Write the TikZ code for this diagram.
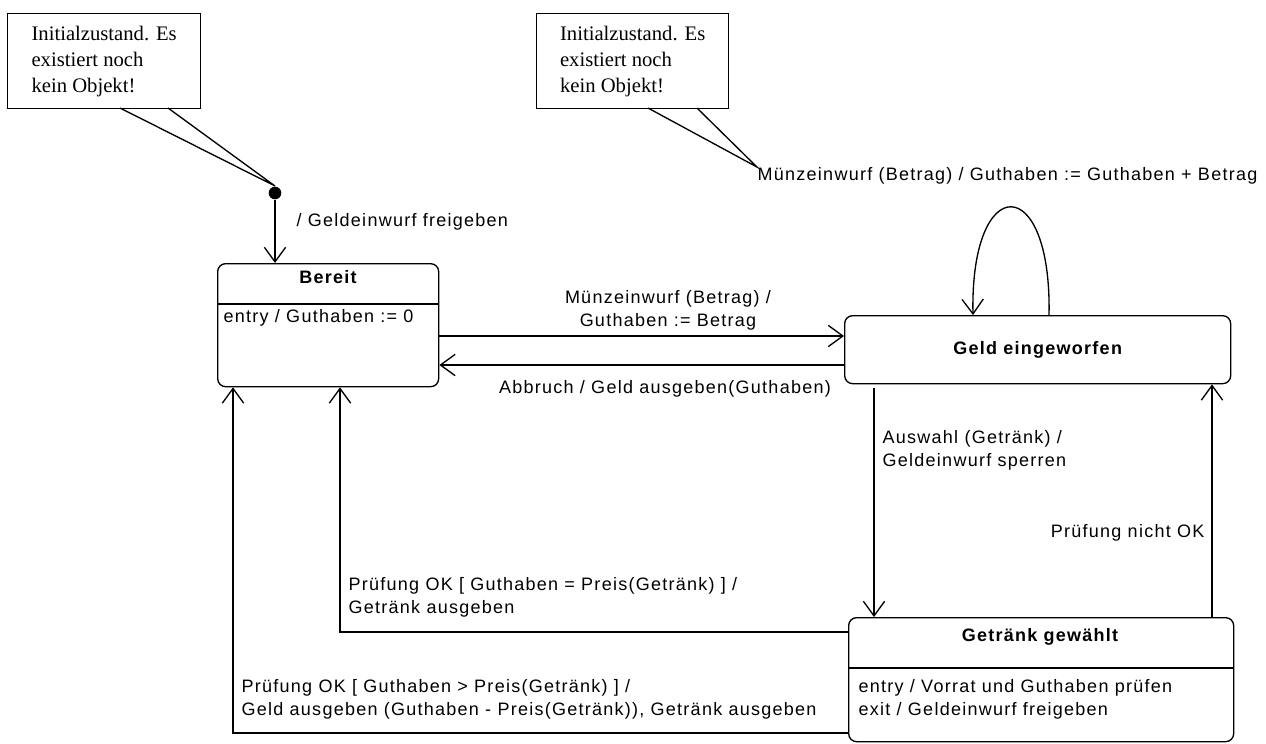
\documentclass[tikz,border=0pt]{standalone}
\usepackage{fontspec}
\usetikzlibrary{arrows.meta,calc}
\newfontfamily\diag[LetterSpace=7]{Liberation Sans}
\newfontfamily\notefont{Liberation Serif}
\begin{document}
\begin{tikzpicture}[x=0.75pt,y=-0.75pt, line width=1pt,
  state/.style={draw, rounded corners=6pt, anchor=north west, inner sep=0},
  note/.style={draw, anchor=north west, align=left, font=\notefont\fontsize{15.5pt}{19.5pt}\selectfont, inner sep=0},
  lbl/.style={font=\diag\fontsize{13.5pt}{17.25pt}\selectfont, inner sep=0, text height=9.8pt, text depth=2.6pt},
  ttl/.style={font=\diag\bfseries\fontsize{13.5pt}{17.25pt}\selectfont, inner sep=0, text height=9.8pt, text depth=2.6pt},
  mlbl/.style={font=\diag\fontsize{13.5pt}{17.25pt}\selectfont, inner sep=0, align=left},
  arr/.style={-{Straight Barb[length=11pt,width=16pt]}},
]
\useasboundingbox (0,0) rectangle (1266,743);
% notes
\node[note, minimum width=144.75pt, minimum height=71.25pt] (note1) at (7,13) {Initialzustand. Es\\existiert noch\\kein Objekt!};
\node[note, minimum width=144pt, minimum height=71.25pt] (note2) at (536,13) {Initialzustand. Es\\existiert noch\\kein Objekt!};
% states
\node[state, minimum width=165.75pt, minimum height=92.25pt] (bereit) at (217,263) {};
\node[state, minimum width=289.5pt, minimum height=51pt, font=\diag\bfseries\fontsize{13.5pt}{16pt}\selectfont] (geld) at (844,315) {Geld eingeworfen};
\node[state, minimum width=288.75pt, minimum height=93pt] (getraenk) at (848,617) {};
\node[ttl] (bereitT) at (328,279) {Bereit};
\coordinate (s1) at (0,304);
\draw (bereit.west |- s1) -- (bereit.east |- s1);
\node[lbl, anchor=west] (bereitE) at (223,318) {entry / Guthaben := 0};
\node[ttl] (getraenkT) at (1040,637) {Getränk gewählt};
\coordinate (s2) at (0,668);
\draw (getraenk.west |- s2) -- (getraenk.east |- s2);
\node[mlbl, anchor=north west] (getraenkE) at (858,679) {entry / Vorrat und Guthaben prüfen\\exit / Geldeinwurf freigeben};
% initial
\node[circle, fill, inner sep=0, minimum size=9.5pt] (init) at (275,193) {};
% labels
\node[lbl, anchor=west] (initL) at (296,222) {/ Geldeinwurf freigeben};
\node[lbl, anchor=west] (selfL) at (757,176) {Münzeinwurf (Betrag) / Guthaben := Guthaben + Betrag};
\node[mlbl, align=center, anchor=north] (m1L) at (668,290) {Münzeinwurf (Betrag) /\\Guthaben := Betrag};
\node[lbl] (abL) at (665,389) {Abbruch / Geld ausgeben(Guthaben)};
\node[mlbl, anchor=north west] (awL) at (882,430) {Auswahl (Getränk) /\\Geldeinwurf sperren};
\node[lbl, anchor=east] (pnL) at (1205,533) {Prüfung nicht OK};
\node[mlbl, anchor=north west] (eqL) at (348,577) {Prüfung OK [ Guthaben = Preis(Getränk) ] /\\Getränk ausgeben};
\node[mlbl, anchor=north west] (gtL) at (241,679) {Prüfung OK [ Guthaben > Preis(Getränk) ] /\\Geld ausgeben (Guthaben - Preis(Getränk)), Getränk ausgeben};
% note tails
\coordinate (t1a) at (120,108); \coordinate (t1b) at (168,108);
\coordinate (t2a) at (648,108); \coordinate (t2b) at (697,108);
\draw (t1a) -- (init.north) -- (t1b);
\draw (t2a) -- (selfL.north west) -- (t2b);
% connectors
\draw[arr] (init) -- (init |- bereit.north);
\coordinate (yA) at (0,336); \coordinate (yB) at (0,365);
\draw[arr] (bereit.east |- yA) -- (geld.west |- yA);
\draw[arr] (geld.west |- yB) -- (bereit.east |- yB);
\coordinate (xL1) at (1049,0); \coordinate (xL2) at (973,0);
\draw[arr] (geld.north -| xL1) .. controls +(3,-144) and +(-3,-144) .. (geld.north -| xL2);
\coordinate (xA) at (874,0); \coordinate (xP) at (1212,0);
\coordinate (gA) at ([yshift=-3pt]geld.south);
\draw[arr] (gA -| xA) -- (getraenk.north -| xA);
\draw[arr] (getraenk.north -| xP) -- (geld.south -| xP);
\coordinate (yE) at (0,632); \coordinate (xE) at (340,0);
\draw[arr] (getraenk.west |- yE) -| (bereit.south -| xE);
\coordinate (yG) at (0,733); \coordinate (xG) at (233,0);
\draw[arr] (getraenk.west |- yG) -| (bereit.south -| xG);
\end{tikzpicture}
\end{document}
